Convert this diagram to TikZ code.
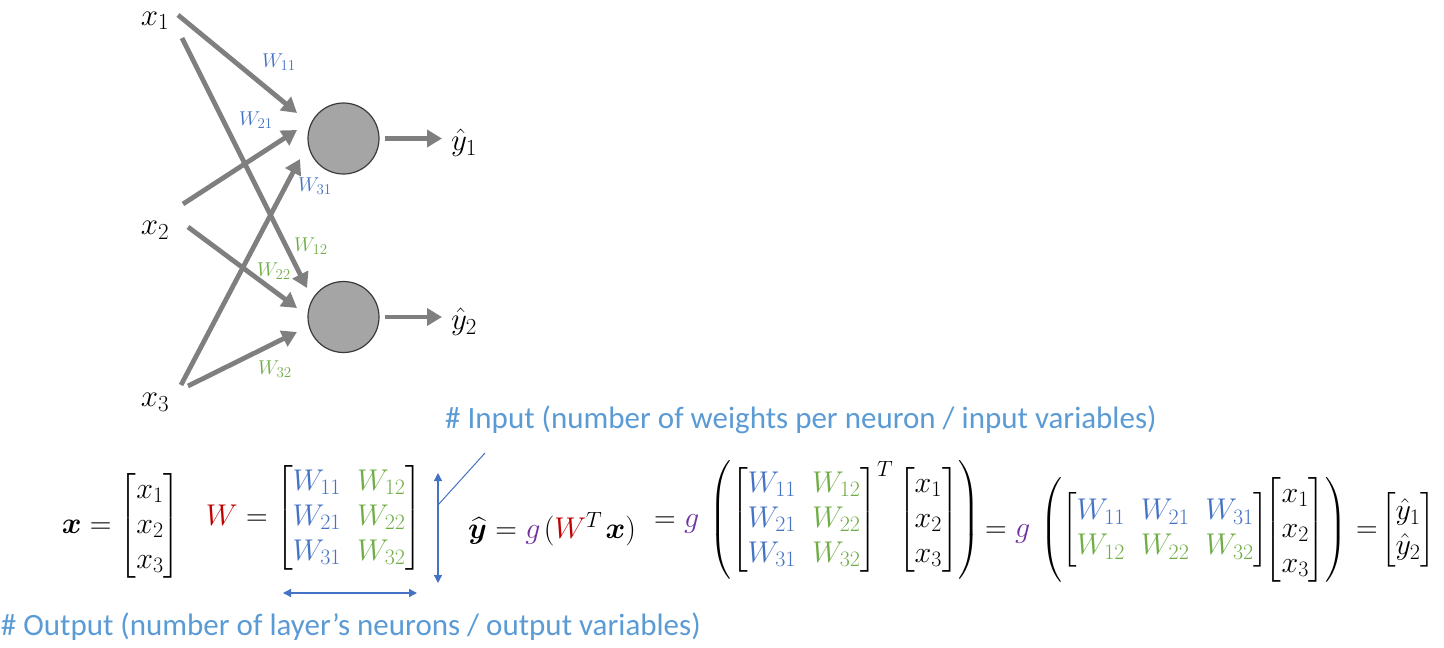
\RequirePackage{fix-cm}
\documentclass[tikz,border=0pt]{standalone}
\usepackage{amsmath,bm}
\usepackage{fontspec}
\newfontfamily\calibri{Carlito}
\usetikzlibrary{arrows.meta}
\DeclareMathSizes{30}{30}{22}{17}
\DeclareMathSizes{31}{31}{23}{18}
\DeclareMathSizes{20}{20}{15}{11}
\definecolor{netgray}{HTML}{7F7F7F}
\definecolor{neurfill}{HTML}{A5A5A5}
\definecolor{neurdraw}{HTML}{3A3A3A}
\definecolor{wblue}{HTML}{4472C4}
\definecolor{wgreen}{HTML}{70AD47}
\definecolor{wred}{HTML}{C00000}
\definecolor{gpurp}{HTML}{7030A0}
\definecolor{noteblue}{HTML}{5B9BD5}
\definecolor{dimblue}{HTML}{4472C4}
\newcommand{\wb}[1]{{\color{wblue}#1}}
\newcommand{\wg}[1]{{\color{wgreen}#1}}
\setlength{\arraycolsep}{8pt}
\begin{document}
\begin{tikzpicture}[x=1pt,y=-1pt,
  edge/.style={draw=netgray, line width=4.8pt, -{Triangle[length=15pt,width=17pt]}},
  neuron/.style={circle, fill=neurfill, draw=neurdraw, line width=1.2pt, minimum size=71pt, inner sep=0pt},
  lab/.style={font=\fontsize{31}{36}\selectfont, inner sep=0pt},
  wlab/.style={font=\fontsize{20}{24}\selectfont, inner sep=0pt},
  eq/.style={font=\fontsize{30}{35}\selectfont, inner sep=0pt},
  note/.style={font=\calibri\fontsize{31}{37}\selectfont, text=noteblue, inner sep=0pt},
  dim/.style={draw=dimblue, line width=1.3pt, {Triangle[length=8pt,width=8pt]}-{Triangle[length=8pt,width=8pt]}},
  thin/.style={draw=dimblue, line width=1pt}
]
\useasboundingbox (0,0) rectangle (1444,648);
% network
\node[lab] (x1) at (155,21) {$x_1$};
\node[lab] (x2) at (155,230) {$x_2$};
\node[lab] (x3) at (155,402) {$x_3$};
\node[neuron] (n1) at (343.5,138.5) {};
\node[neuron] (n2) at (343.5,317) {};
\node[lab] (y1) at (464,143) {$\hat{y}_1$};
\node[lab] (y2) at (464,322) {$\hat{y}_2$};
\coordinate (s11) at (178,15);  \coordinate (e11) at (297,113);
\coordinate (s12) at (182,38);  \coordinate (e12) at (307,288);
\coordinate (s21) at (183,204); \coordinate (e21) at (297,130);
\coordinate (s22) at (188,227); \coordinate (e22) at (297,308);
\coordinate (s31) at (181,385); \coordinate (e31) at (300,159);
\coordinate (s32) at (188,386); \coordinate (e32) at (297,332);
\coordinate (o1) at (442,138.5);
\coordinate (o2) at (442,317);
\draw[edge] (s11) -- (e11);
\draw[edge] (s12) -- (e12);
\draw[edge] (s21) -- (e21);
\draw[edge] (s22) -- (e22);
\draw[edge] (s31) -- (e31);
\draw[edge] (s32) -- (e32);
\draw[edge] ([xshift=5pt]n1.east) -- (o1);
\draw[edge] ([xshift=5pt]n2.east) -- (o2);
\node[wlab] (w11) at (279,62) {$\wb{W_{11}}$};
\node[wlab] (w21) at (256,120) {$\wb{W_{21}}$};
\node[wlab] (w31) at (315,186) {$\wb{W_{31}}$};
\node[wlab] (w12) at (311,246) {$\wg{W_{12}}$};
\node[wlab] (w22) at (274,271) {$\wg{W_{22}}$};
\node[wlab] (w32) at (275,369) {$\wg{W_{32}}$};
% notes
\node[note, anchor=base west] (inp) at (445,428) {\# Input (number of weights per neuron / input variables)};
\node[note, anchor=base east] (outp) at (701,635) {\# Output (number of layer’s neurons / output variables)};
% equations
\node[eq] (xv) at (121,526) {$\bm{x} = \begin{bmatrix}x_1\\x_2\\x_3\end{bmatrix}$};
\node[eq] (wm) at (314,518) {${\color{wred}W} = \begin{bmatrix}\wb{W_{11}} & \wg{W_{12}}\\ \wb{W_{21}} & \wg{W_{22}}\\ \wb{W_{31}} & \wg{W_{32}}\end{bmatrix}$};
\node[eq, anchor=base west] (yh) at (468,538) {$\widehat{\bm{y}} = {\color{gpurp}g}\mkern2mu({\color{wred}W}^T\mkern2mu\bm{x})$};
\node[eq, anchor=west] (eq2) at (654,520) {$= {\color{gpurp}g}\,\left(\begin{bmatrix}\wb{W_{11}} & \wg{W_{12}}\\ \wb{W_{21}} & \wg{W_{22}}\\ \wb{W_{31}} & \wg{W_{32}}\end{bmatrix}^T \begin{bmatrix}x_1\\x_2\\x_3\end{bmatrix}\right)$};
\node[eq, anchor=west] (eq3) at (985,530) {$= {\color{gpurp}g}\,\left(\begin{bmatrix}\wb{W_{11}} & \wb{W_{21}} & \wb{W_{31}}\\ \wg{W_{12}} & \wg{W_{22}} & \wg{W_{32}}\end{bmatrix}\mkern-5mu\begin{bmatrix}x_1\\x_2\\x_3\end{bmatrix}\right)$};
\node[eq, anchor=west] (eq4) at (1356,530) {$=\!\begin{bmatrix}\hat{y}_1\\ \hat{y}_2\end{bmatrix}$};
% dimension marks
\coordinate (va) at (438,473); \coordinate (vb) at (438,583);
\coordinate (ha) at (283,593); \coordinate (hb) at (417,593);
\coordinate (da) at (438,505); \coordinate (db) at (485,453);
\draw[dim] (va) -- (vb);
\draw[dim] (ha) -- (hb);
\draw[thin] (da) -- (db);
\end{tikzpicture}
\end{document}
